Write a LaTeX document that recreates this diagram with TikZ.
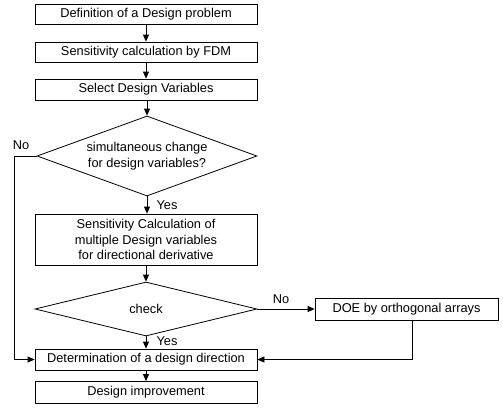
\documentclass[tikz,border=0pt]{standalone}
\usepackage{fontspec}
\setmainfont{Liberation Sans}
\usetikzlibrary{shapes.geometric,arrows.meta,calc}
\begin{document}
\begin{tikzpicture}[x=1pt,y=-1pt,
  font=\fontsize{12.8}{15.5}\selectfont,
  line width=0.8pt,
  box/.style={draw,rectangle,minimum width=222pt,minimum height=20pt,inner sep=0pt,align=center},
  dia/.style={draw,diamond,inner sep=0pt,align=center},
  arr/.style={-{Triangle[length=7pt,width=6pt]}},
  lbl/.style={inner sep=0pt}
]
\useasboundingbox (0,0) rectangle (503,407);
\node[box] (b1) at (146,14) {Definition of a Design problem};
\node[box] (b2) at (146,52) {Sensitivity calculation by FDM};
\node[box,minimum height=21pt] (b3) at (146,89.5) {Select Design Variables};
\node[dia,aspect=2.75,minimum width=220pt,minimum height=80pt] (d1) at (147,156)
  {simultaneous change\\for design variables?};
\node[box,minimum height=51pt] (b4) at (146,239.5)
  {Sensitivity Calculation of\\multiple Design variables\\for directional derivative};
\node[dia,aspect=4.1,minimum width=222pt,minimum height=54pt] (d2) at (146,309) {check};
\node[box,minimum width=183pt,minimum height=22pt] (doe) at (406.5,309) {DOE by orthogonal arrays};
\node[box,minimum height=21pt] (b5) at (146,359.5) {Determination of a design direction};
\node[box,minimum height=22pt] (b6) at (146,392.5) {Design improvement};

\node[lbl] (no1) at (21,145) {No};
\node[lbl] (yes1) at (167,205) {Yes};
\node[lbl] (no2) at (281,299) {No};
\node[lbl] (yes2) at (167,341) {Yes};

\coordinate (lc1) at (14,156);
\coordinate (lc2) at (14,359.5);
\coordinate (rc) at (412,359.5);

\draw[arr] (b1) -- (b2);
\draw[arr] (b2) -- (b3);
\draw[arr] (b3.south -| d1.north) -- (d1.north);
\draw[arr] (d1.south) -- (d1.south |- b4.north);
\draw[arr] (b4.south -| d2.north) -- (d2.north);
\draw[arr] (d2.east) -- (doe.west);
\draw[arr] (d2.south) -- (b5.north);
\draw[arr] (d1.west) -- (lc1) -- (lc2) -- (b5.west);
\draw[arr] (rc |- doe.south) -- (rc) -- (b5.east);
\draw[arr] (b5) -- (b6);
\end{tikzpicture}
\end{document}
